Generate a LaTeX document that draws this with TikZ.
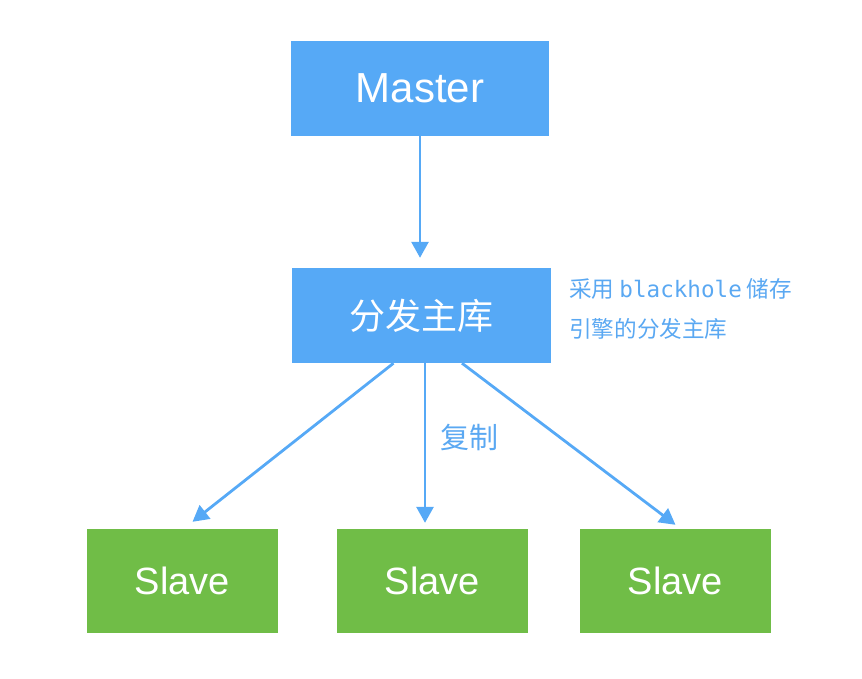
\documentclass[tikz,border=0pt]{standalone}
\usepackage{fontspec}
\setmainfont{Liberation Sans}
\newfontfamily\cjk{Noto Sans CJK SC}
\newfontfamily\monofont{DejaVu Sans Mono}
\usepackage{tikz}
\usetikzlibrary{arrows.meta,positioning}

\definecolor{boxblue}{HTML}{56A9F6}
\definecolor{boxgreen}{HTML}{70BD47}
\definecolor{noteblue}{HTML}{5AA8F2}

\begin{document}
\begin{tikzpicture}[
  x=1pt, y=-1pt,
  box/.style={rectangle, fill=boxblue, text=white, inner sep=0pt,
              minimum width=258pt, minimum height=95pt},
  slavebox/.style={rectangle, fill=boxgreen, text=white, inner sep=0pt,
                   minimum width=191pt, minimum height=104pt,
                   font=\fontsize{38}{40}\selectfont},
  arr/.style={-{Triangle[length=16pt,width=17pt]}, line width=2.8pt, draw=boxblue},
]
\useasboundingbox (0,0) rectangle (862,678);

% Master
\node[box, font=\fontsize{42}{44}\selectfont] (master) at (420,88.5) {Master};

% Relay master
\node[box, minimum width=259pt, font=\cjk\fontsize{36}{38}\selectfont]
  (relay) at (421.5,315.5) {分发主库};

% Slaves
\node[slavebox] (slaveL) at (182.5,581) {Slave};
\node[slavebox] (slaveM) at (432.5,581) {Slave};
\node[slavebox] (slaveR) at (675.5,581) {Slave};

% Arrows
\draw[arr, shorten >=10pt] (master.south) -- (master.south |- relay.north);
\draw[arr] ([xshift=-28pt]relay.south) -- ([xshift=10pt,yshift=7pt]slaveL.north);
\draw[arr] ([xshift=3.5pt]relay.south) -- ([xshift=-7.5pt,yshift=6pt]slaveM.north);
\draw[arr] ([xshift=40.5pt]relay.south) -- ([yshift=4pt]slaveR.north);

% Labels
\node[text=noteblue, font=\cjk\fontsize{29}{30}\selectfont, anchor=west]
  (copy) at (437,437) {复制};
\node[text=noteblue, font=\cjk\fontsize{22.6}{40}\selectfont, anchor=north west,
      align=left, inner sep=0pt] (note) at (569,278)
  {采用 {\monofont blackhole} 储存\\引擎的分发主库};

\end{tikzpicture}
\end{document}
